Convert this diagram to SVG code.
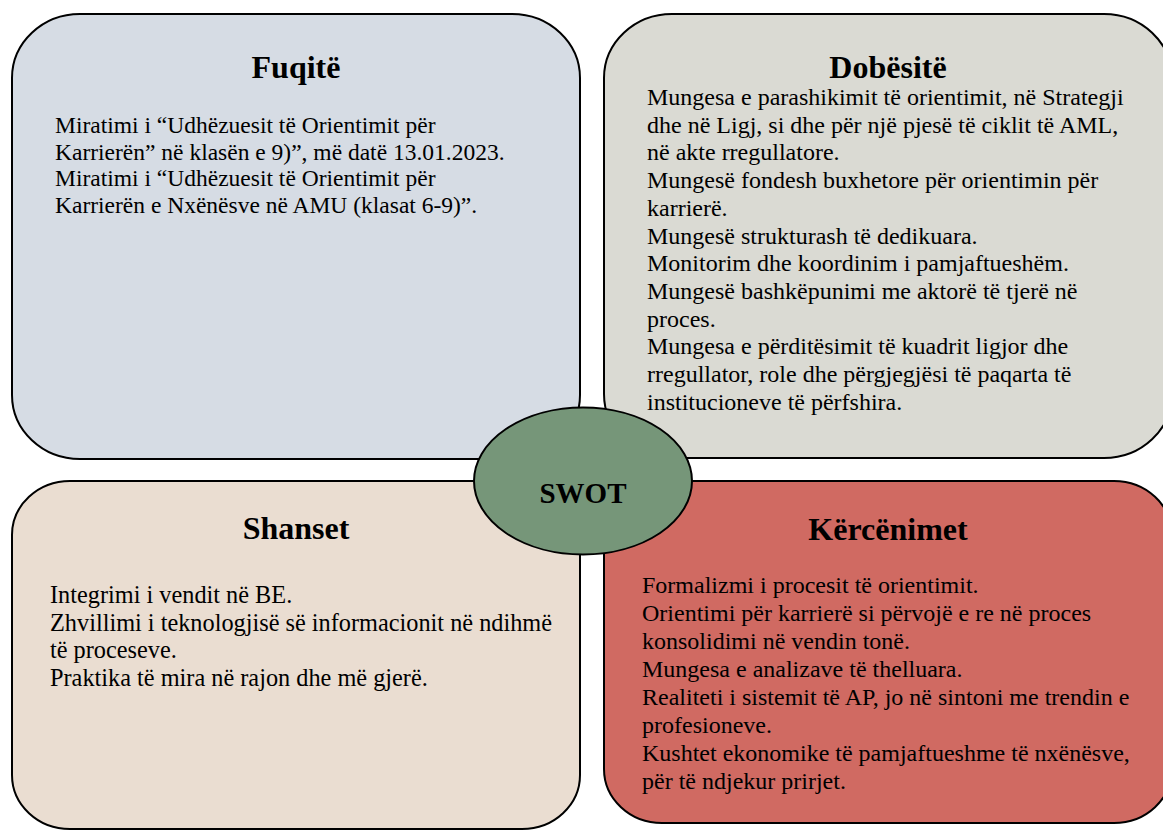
<svg xmlns="http://www.w3.org/2000/svg" width="1163" height="830" viewBox="0 0 1163 830">
  <style>
    .box { stroke: #000; stroke-width: 2; }
    .title { font-family: "Liberation Serif", "Times New Roman", serif; font-weight: bold; font-size: 32px; text-anchor: middle; fill: #000; }
    .body { font-family: "Liberation Serif", "Times New Roman", serif; font-size: 24px; fill: #000; }
    .small { font-size: 23.5px; }
    .wide { font-size: 24.3px; }
  </style>
  <rect width="1163" height="830" fill="#fff"/>
  <g id="fuqite">
    <rect class="box" x="12" y="14" width="568" height="445" rx="68" ry="64" fill="#D6DCE4"/>
    <text class="title" x="296" y="78">Fuqitë</text>
    <text class="body small" x="55" y="133">Miratimi i “Udhëzuesit të Orientimit për</text>
    <text class="body small" x="55" y="159.5">Karrierën” në klasën e 9)”, më datë 13.01.2023.</text>
    <text class="body small" x="55" y="186">Miratimi i “Udhëzuesit të Orientimit për</text>
    <text class="body small" x="55" y="212.5">Karrierën e Nxënësve në AMU (klasat 6-9)”.</text>
  </g>
  <g id="dobesite">
    <rect class="box" x="604" y="14" width="568" height="444" rx="68" ry="64" fill="#DADAD3"/>
    <text class="title" x="888" y="78">Dobësitë</text>
    <text class="body" x="647" y="105">Mungesa e parashikimit të orientimit, në Strategji</text>
    <text class="body" x="647" y="132.7">dhe në Ligj, si dhe për një pjesë të ciklit të AML,</text>
    <text class="body" x="647" y="160.4">në akte rregullatore.</text>
    <text class="body" x="647" y="188.1">Mungesë fondesh buxhetore për orientimin për</text>
    <text class="body" x="647" y="215.8">karrierë.</text>
    <text class="body" x="647" y="243.5">Mungesë strukturash të dedikuara.</text>
    <text class="body" x="647" y="271.2">Monitorim dhe koordinim i pamjaftueshëm.</text>
    <text class="body" x="647" y="298.9">Mungesë bashkëpunimi me aktorë të tjerë në</text>
    <text class="body" x="647" y="326.6">proces.</text>
    <text class="body" x="647" y="354.3">Mungesa e përditësimit të kuadrit ligjor dhe</text>
    <text class="body" x="647" y="382">rregullator, role dhe përgjegjësi të paqarta të</text>
    <text class="body" x="647" y="409.7">institucioneve të përfshira.</text>
  </g>
  <g id="shanset">
    <rect class="box" x="12" y="481" width="568" height="348" rx="58" ry="54" fill="#EADDD1"/>
    <text class="title" x="296" y="539">Shanset</text>
    <text class="body wide" x="50" y="603">Integrimi i vendit në BE.</text>
    <text class="body wide" x="50" y="630.5">Zhvillimi i teknologjisë së informacionit në ndihmë</text>
    <text class="body wide" x="50" y="658">të proceseve.</text>
    <text class="body wide" x="50" y="685.5">Praktika të mira në rajon dhe më gjerë.</text>
  </g>
  <g id="kercenimet">
    <rect class="box" x="604" y="481" width="568" height="342" rx="58" ry="54" fill="#D06A62"/>
    <text class="title" x="888" y="540">Kërcënimet</text>
    <text class="body" x="642" y="593">Formalizmi i procesit të orientimit.</text>
    <text class="body" x="642" y="621">Orientimi për karrierë si përvojë e re në proces</text>
    <text class="body" x="642" y="649">konsolidimi në vendin tonë.</text>
    <text class="body" x="642" y="677">Mungesa e analizave të thelluara.</text>
    <text class="body" x="642" y="705">Realiteti i sistemit të AP, jo në sintoni me trendin e</text>
    <text class="body" x="642" y="733">profesioneve.</text>
    <text class="body" x="642" y="761">Kushtet ekonomike të pamjaftueshme të nxënësve,</text>
    <text class="body" x="642" y="789">për të ndjekur prirjet.</text>
  </g>
  <g id="swot">
    <ellipse class="box" cx="583" cy="481" rx="109" ry="73.5" fill="#769679"/>
    <text class="title" x="583" y="503" style="font-size:29px">SWOT</text>
  </g>
</svg>
